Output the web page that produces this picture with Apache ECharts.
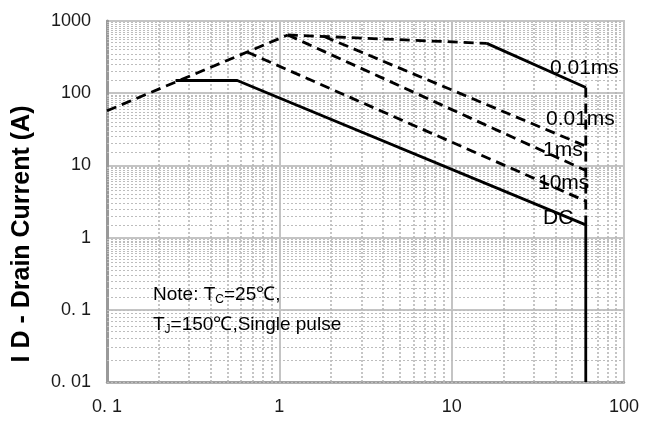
<!DOCTYPE html>
<html>
<head>
<meta charset="utf-8">
<script src="https://cdn.jsdelivr.net/npm/echarts@6/dist/echarts.min.js"></script>
<style>
  html, body { margin: 0; padding: 0; background: #fff; }
  #chart { width: 652px; height: 421px; }
</style>
</head>
<body>
<div id="chart"></div>
<script>
const FONT = "'Liberation Sans', Arial, sans-serif";

// tick labels keyed by decade exponent
const X_TICK_LABELS = { "-1": "0. 1", "0": "1", "1": "10", "2": "100" };
const Y_TICK_LABELS = { "-2": "0. 01", "-1": "0. 1", "0": "1", "1": "10", "2": "100", "3": "1000" };

// [VDS (V), ID (A)]
const RDS_LIMIT   = [[0.1, 57], [1.12, 640]];
const TOP_DASHED  = [[1.12, 640], [16, 490]];
const TOP_SOLID   = [[16, 490], [60, 120]];
const EDGE_DASHED = [[60, 120], [60, 1.5]];
const PULSE_A     = [[1.82, 610], [60, 18.5]];
const PULSE_B     = [[1.12, 640], [60, 8.5]];
const PULSE_C     = [[0.65, 372], [60, 3.2]];
const DC_LINE     = [[0.25, 150], [0.57, 150], [60, 1.5], [60, 0.01]];

// minor grid
const X_DECADES = [0.1, 1, 10];
const X_MINOR_STEPS = [2, 3, 4, 5, 6, 7, 8, 9];
const Y_DECADES = [0.01, 0.1, 1, 10, 100];
const Y_MINOR_STEPS = [1.5, 2, 2.5, 3, 3.5, 4, 4.5, 5, 5.5, 6, 6.5, 7, 7.5, 8, 8.5, 9, 9.5];

const CURVE_LABELS = ["0.01ms", "0.01ms", "1ms", "10ms", "DC"];

const chart = echarts.init(document.getElementById("chart"), null, { renderer: "canvas" });

function decadeLabel(map) {
  return v => map[String(Math.round(Math.log10(v)))] || "";
}

function curve(data, dashed) {
  return {
    type: "line",
    data,
    symbol: "none",
    z: 3,
    lineStyle: { color: "#000", width: 2.8, type: dashed ? [10, 6] : "solid" },
  };
}

const xMinor = [];
X_DECADES.forEach(d => X_MINOR_STEPS.forEach(s => xMinor.push(+(d * s).toPrecision(3))));
const yMinor = [];
Y_DECADES.forEach(d => Y_MINOR_STEPS.forEach(s => yMinor.push(+(d * s).toPrecision(3))));

const minorV = { color: "#b3b3b3", width: 1.5, type: [2, 2] };
const minorH = { color: "#bdbdbd", width: 1, type: [2, 2] };

const labelPos = [[550, 68], [546, 119], [543, 150], [538, 183], [543, 218]];

chart.setOption({
  animation: false,
  grid: { left: 107, right: 28, top: 21, bottom: 39, show: true, borderColor: "#c4c4c4", borderWidth: 2 },
  xAxis: {
    type: "log", logBase: 10, min: 0.1, max: 100,
    axisLine: { show: true, onZero: false, lineStyle: { color: "#999", width: 2.5 } },
    axisTick: { show: false },
    axisLabel: { formatter: decadeLabel(X_TICK_LABELS), color: "#1a1a1a", fontSize: 18, fontFamily: FONT, margin: 16 },
    splitLine: { show: true, lineStyle: { color: "#c4c4c4", width: 2 } },
  },
  yAxis: {
    type: "log", logBase: 10, min: 0.01, max: 1000,
    axisLine: { show: true, onZero: false, lineStyle: { color: "#999", width: 3 } },
    axisTick: { show: false },
    axisLabel: { formatter: decadeLabel(Y_TICK_LABELS), color: "#1a1a1a", fontSize: 18, fontFamily: FONT, margin: 16 },
    splitLine: { show: true, lineStyle: { color: "#c4c4c4", width: 2 } },
  },
  series: [
    {
      type: "line", data: [], z: 1,
      markLine: {
        silent: true, symbol: "none", z: 1, animation: false,
        label: { show: false },
        data: [
          ...xMinor.map(v => ({ xAxis: v, lineStyle: minorV })),
          ...yMinor.map(v => ({ yAxis: v, lineStyle: minorH })),
        ],
      },
    },
    curve(RDS_LIMIT, true),
    curve(TOP_DASHED, true),
    curve(TOP_SOLID, false),
    curve(EDGE_DASHED, true),
    curve(PULSE_A, true),
    curve(PULSE_B, true),
    curve(PULSE_C, true),
    curve(DC_LINE, false),
  ],
  graphic: [
    ...CURVE_LABELS.map((t, i) => ({
      type: "text", x: labelPos[i][0], y: labelPos[i][1], z: 10,
      style: { text: t, font: `21px ${FONT}`, fill: "#000", textAlign: "left", verticalAlign: "middle" },
    })),
    {
      type: "text", x: 22, y: 234, rotation: Math.PI / 2, z: 10,
      style: { text: "I D - Drain Current (A)", font: `bold 25px ${FONT}`, fill: "#000", textAlign: "center", verticalAlign: "middle" },
    },
    {
      type: "text", x: 153, y: 295, z: 10,
      style: {
        text: "{a|Note: T}{b|C}{a|=25℃,}",
        verticalAlign: "middle",
        rich: {
          a: { fontSize: 19, fontFamily: FONT, fill: "#000", lineHeight: 22, verticalAlign: "middle" },
          b: { fontSize: 12, fontFamily: FONT, fill: "#000", lineHeight: 12, verticalAlign: "bottom" },
        },
      },
    },
    {
      type: "text", x: 153, y: 325, z: 10,
      style: {
        text: "{a|T}{b|J}{a|=150℃,Single pulse}",
        verticalAlign: "middle",
        rich: {
          a: { fontSize: 19, fontFamily: FONT, fill: "#000", lineHeight: 22, verticalAlign: "middle" },
          b: { fontSize: 12, fontFamily: FONT, fill: "#000", lineHeight: 12, verticalAlign: "bottom" },
        },
      },
    },
  ],
});
</script>
</body>
</html>
